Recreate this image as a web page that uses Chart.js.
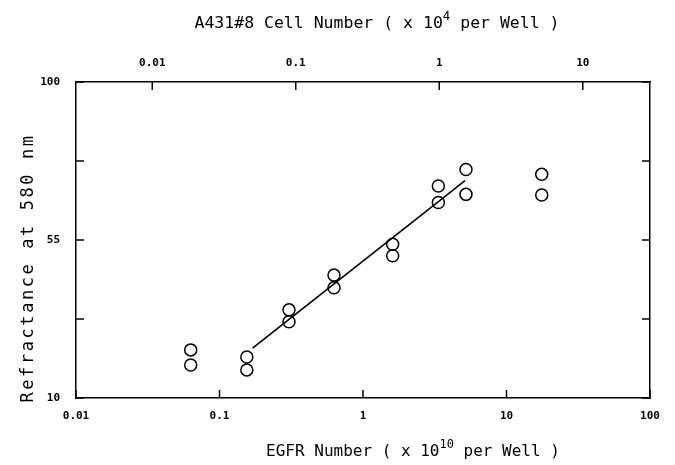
<!DOCTYPE html>
<html>
<head>
<meta charset="utf-8">
<script src="https://cdn.jsdelivr.net/npm/chart.js@4/dist/chart.umd.min.js"></script>
<style>
html,body{margin:0;padding:0;background:#fff;}
#c{display:block;}
</style>
</head>
<body>
<canvas id="c" width="675" height="465"></canvas>
<script>
// ---- data ----
const egfrNumber  = [0.063, 0.063, 0.155, 0.155, 0.305, 0.305, 0.628, 0.628, 1.61, 1.61, 3.35, 3.35, 5.22, 5.22, 17.6, 17.6];
const refractance = [23.7, 19.4, 21.7, 18.0, 35.1, 31.7, 45.0, 41.4, 53.8, 50.5, 70.4, 65.7, 75.1, 68.0, 73.7, 67.8];
const fitLineX = [0.170, 5.14];
const fitLineY = [24.2, 71.9];
const egfrPerCellRatio = 3.4;          // bottom-axis value / top-axis value
const bottomTicks = [0.01, 0.1, 1, 10, 100];
const bottomLabels = ['0.01', '0.1', '1', '10', '100'];
const topTicks = [0.01, 0.1, 1, 10];
const topLabels = ['0.01', '0.1', '1', '10'];
const leftTicks = [10, 32.5, 55, 77.5, 100];
const leftLabels = ['10', '', '55', '', '100'];
const topTitle = [{t:'A431#8 Cell Number ( x 10'}, {t:'4', sup:true}, {t:' per Well )'}];
const bottomTitle = [{t:'EGFR Number ( x 10'}, {t:'10', sup:true}, {t:' per Well )'}];
const leftTitle = [{t:'Refractance at 580 nm'}];

const FONT = '"DejaVu Sans Mono", "Liberation Mono", monospace';
const INK = '#000';

// draws a title made of normal / superscript parts, spread to a target width
function drawRich(ctx, parts, cx, baseline, size, targetWidth) {
  ctx.textAlign = 'left';
  ctx.textBaseline = 'alphabetic';
  ctx.fillStyle = INK;
  const hasLS = 'letterSpacing' in ctx;
  const setF = (p, sp) => {
    ctx.font = (p.sup ? size * 0.75 : size) + 'px ' + FONT;
    if (hasLS) ctx.letterSpacing = sp + 'px';
  };
  let w = 0, n = 0;
  parts.forEach(p => { setF(p, 0); w += ctx.measureText(p.t).width; n += p.t.length; });
  const sp = hasLS ? Math.max(0, (targetWidth - w) / n) : 0;
  let total = 0;
  parts.forEach(p => { setF(p, sp); total += ctx.measureText(p.t).width; });
  let x = cx - total / 2;
  parts.forEach(p => {
    setF(p, sp);
    ctx.fillText(p.t, x, p.sup ? baseline - size * 0.48 : baseline);
    x += ctx.measureText(p.t).width;
  });
  if (hasLS) ctx.letterSpacing = '0px';
}

const framePlugin = {
  id: 'frame',
  afterDraw(chart) {
    const ctx = chart.ctx, a = chart.chartArea, s = chart.scales;
    const L = 8;
    ctx.save();
    ctx.strokeStyle = INK;
    ctx.lineWidth = 1.5;
    const seg = (x1, y1, x2, y2) => { ctx.beginPath(); ctx.moveTo(x1, y1); ctx.lineTo(x2, y2); ctx.stroke(); };
    bottomTicks.forEach(v => { const p = s.x.getPixelForValue(v); seg(p, a.bottom, p, a.bottom - L); });
    topTicks.forEach(v => { const p = s.x2.getPixelForValue(v); seg(p, a.top, p, a.top + L); });
    leftTicks.forEach(v => { const p = s.y.getPixelForValue(v); seg(a.left, p, a.left + L, p); });
    leftTicks.forEach(v => { const p = s.y2.getPixelForValue(v); seg(a.right, p, a.right - L, p); });
    // titles
    drawRich(ctx, topTitle, 377, 28, 16.5, 361);
    drawRich(ctx, bottomTitle, 413, 456, 16, 293);
    ctx.save();
    ctx.translate(33, 268);
    ctx.rotate(-Math.PI / 2);
    drawRich(ctx, leftTitle, 0, 0, 17, 269);
    ctx.restore();
    ctx.restore();
  }
};

const tickFont = {family: FONT, size: 11, weight: 'bold'};
const baseGrid = {display: true, drawOnChartArea: false, drawTicks: false, color: INK};
const baseBorder = {display: true, color: INK, width: 1.5};

new Chart(document.getElementById('c'), {
  type: 'scatter',
  data: {
    datasets: [
      {
        label: 'wells',
        data: egfrNumber.map((x, i) => ({x: x, y: refractance[i]})),
        pointStyle: 'circle',
        pointRadius: 6,
        pointBorderWidth: 1.5,
        borderColor: INK,
        backgroundColor: 'rgba(0,0,0,0)',
        xAxisID: 'x', yAxisID: 'y'
      },
      {
        label: 'fit',
        data: fitLineX.map((x, i) => ({x: x, y: fitLineY[i]})),
        showLine: true,
        pointRadius: 0,
        borderColor: INK,
        borderWidth: 1.6,
        xAxisID: 'x', yAxisID: 'y'
      }
    ]
  },
  options: {
    responsive: false,
    animation: false,
    layout: {padding: 0},
    plugins: {legend: {display: false}, tooltip: {enabled: false}},
    scales: {
      x: {
        type: 'logarithmic', position: 'bottom', min: 0.01, max: 100,
        afterBuildTicks: sc => { sc.ticks = bottomTicks.map(v => ({value: v})); },
        afterFit: sc => { sc.height = 67; },
        ticks: {autoSkip: false, maxRotation: 0, padding: 12, color: INK, font: tickFont,
                callback: v => { const i = bottomTicks.indexOf(v); return i >= 0 ? bottomLabels[i] : ''; }},
        grid: baseGrid, border: baseBorder
      },
      x2: {
        type: 'logarithmic', position: 'top',
        min: 0.01 / egfrPerCellRatio, max: 100 / egfrPerCellRatio,
        afterBuildTicks: sc => { sc.ticks = topTicks.map(v => ({value: v})); },
        afterFit: sc => { sc.height = 82; },
        ticks: {autoSkip: false, maxRotation: 0, padding: 12, color: INK, font: tickFont,
                callback: v => { const i = topTicks.indexOf(v); return i >= 0 ? topLabels[i] : ''; }},
        grid: baseGrid, border: baseBorder
      },
      y: {
        type: 'linear', position: 'left', min: 10, max: 100,
        afterBuildTicks: sc => { sc.ticks = leftTicks.map(v => ({value: v})); },
        afterFit: sc => { sc.width = 76; },
        ticks: {autoSkip: false, padding: 16, color: INK, font: tickFont,
                callback: v => { const i = leftTicks.indexOf(v); return i >= 0 ? leftLabels[i] : ''; }},
        grid: baseGrid, border: baseBorder
      },
      y2: {
        type: 'linear', position: 'right', min: 10, max: 100,
        afterBuildTicks: sc => { sc.ticks = leftTicks.map(v => ({value: v})); },
        afterFit: sc => { sc.width = 25; },
        ticks: {display: false},
        grid: baseGrid, border: baseBorder
      }
    }
  },
  plugins: [framePlugin]
});
</script>
</body>
</html>
